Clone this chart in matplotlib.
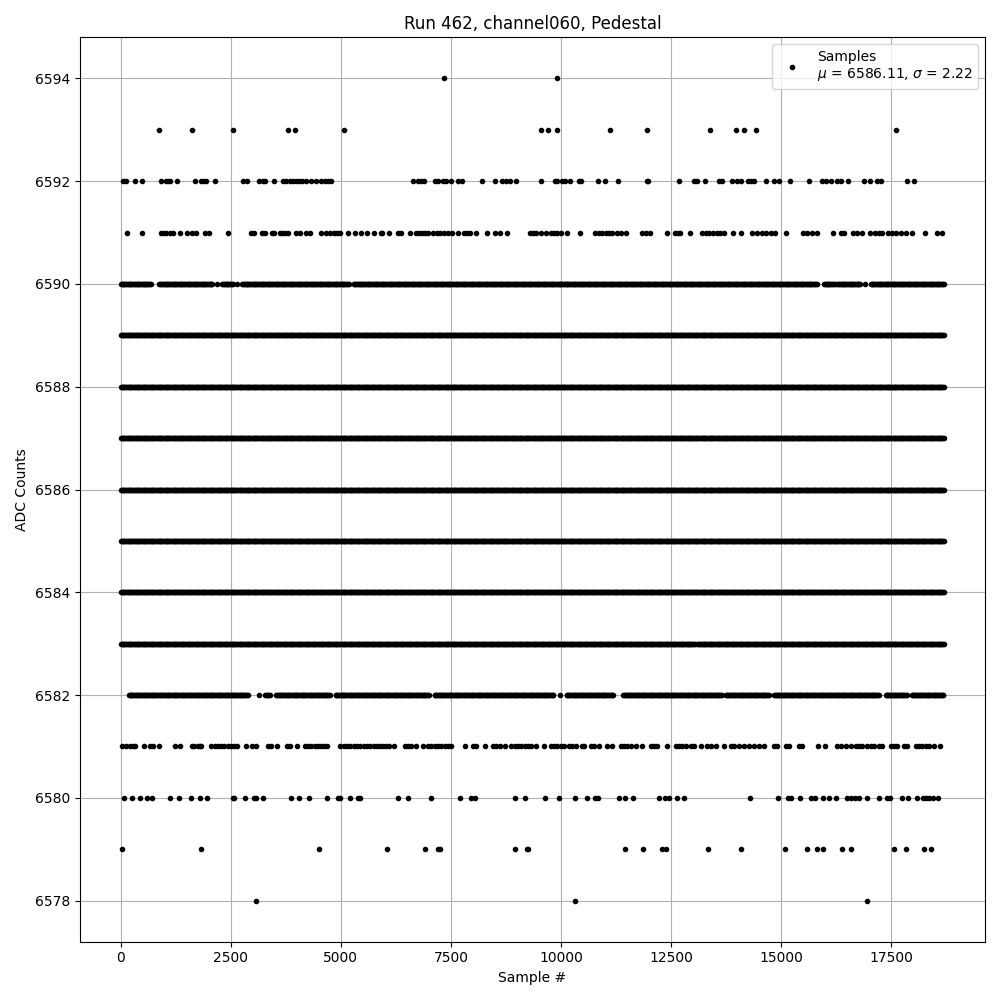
import numpy as np
import matplotlib
matplotlib.use("Agg")
import matplotlib.pyplot as plt

# sample numbers, one list per ADC level (sparse levels)
level_points = {
    6594: [7341, 9909],
    6593: [864, 1614, 2545, 3796, 3962, 5068, 9538, 9712, 9909, 11114, 11955,
           13386, 13970, 14159, 14432, 17621],
    6592: [61, 121, 333, 477, 924, 1030, 1083, 1129, 1273, 1682, 1833, 1894,
           1939, 2136, 2773, 2864, 3136, 3227, 3273, 3470, 3682, 3758, 3833,
           3909, 3985, 4045, 4106, 4212, 4326, 4439, 4553, 4629, 4705, 4780,
           6636, 6750, 6826, 6879, 7129, 7205, 7318, 7394, 7508, 7659, 7750,
           8205, 8500, 8667, 8758, 8849, 8985, 9538, 9856, 9917, 10030, 10091,
           10205, 10409, 10462, 10848, 10992, 11295, 11955, 11977, 12689,
           13023, 13099, 13265, 13591, 13667, 13879, 13992, 14083, 14250,
           14311, 14386, 14659, 14841, 14955, 15205, 15644, 15924, 16015,
           16129, 16280, 16356, 16523, 16886, 17023, 17174, 17265, 17871,
           18023],
    6591: [144, 477, 902, 970, 1030, 1121, 1197, 1356, 1500, 1614, 1712, 1924,
           2015, 2439, 2955, 3015, 3212, 3280, 3424, 3485, 3606, 3667, 3727,
           3796, 3970, 4061, 4197, 4303, 4545, 4652, 4742, 4833, 4909, 4970,
           5159, 5318, 5462, 5598, 5750, 5917, 5939, 6091, 6303, 6371, 6576,
           6712, 6773, 6833, 6902, 6977, 7091, 7182, 7258, 7333, 7432, 7523,
           7659, 7788, 7864, 7939, 8076, 8318, 8500, 8606, 8773, 9303, 9364,
           9439, 9538, 9652, 9765, 9841, 9917, 10008, 10129, 10432, 10773,
           10864, 10939, 11015, 11091, 11167, 11265, 11371, 11485, 11833,
           11924, 12015, 12402, 12583, 12659, 12705, 12932, 13197, 13288,
           13364, 13462, 13538, 13614, 13705, 13917, 14099, 14348, 14462,
           14561, 14652, 14765, 14864, 15121, 15500, 15599, 15712, 15811,
           16182, 16356, 16432, 16644, 16735, 16848, 17023, 17136, 17227,
           17303, 17439, 17530, 17621, 17720, 17833, 17985, 18273, 18553,
           18667],
    6581: [23, 121, 212, 273, 333, 538, 652, 742, 864, 1242, 1356, 1621, 1674,
           1750, 1788, 1826, 2053, 2129, 2205, 2280, 2356, 2432, 2508, 2583,
           2636, 2848, 2985, 3076, 3341, 3417, 3545, 3773, 3848, 4000, 4174,
           4250, 4326, 4402, 4477, 4553, 4606, 4682, 4985, 5061, 5136, 5212,
           5288, 5364, 5439, 5515, 5591, 5667, 5742, 5818, 5879, 5955, 6030,
           6091, 6197, 6447, 6523, 6598, 6712, 6864, 6977, 7053, 7129, 7205,
           7280, 7356, 7432, 7508, 7811, 8000, 8076, 8280, 8455, 8530, 8606,
           8720, 8871, 8947, 9023, 9098, 9174, 9250, 9326, 9439, 9614, 9765,
           9841, 9917, 9992, 10068, 10182, 10258, 10333, 10485, 10523, 10674,
           10750, 10864, 11053, 11167, 11356, 11432, 11508, 11583, 11697,
           11848, 12038, 12114, 12189, 12417, 12606, 12682, 12758, 12833,
           12947, 13023, 13174, 13326, 13402, 13515, 13705, 13856, 13932,
           14045, 14159, 14273, 14386, 14500, 14614, 14841, 14917, 15106,
           15182, 15409, 15485, 15841, 15992, 16280, 16356, 16470, 16583,
           16697, 16773, 16848, 16962, 17038, 17114, 17227, 17303, 17492,
           17568, 17644, 17795, 17871, 18061, 18136, 18212, 18288, 18364,
           18477, 18614],
    6580: [83, 250, 439, 591, 712, 1129, 1318, 1591, 1803, 1955, 2545, 2583,
           2818, 3015, 3076, 3227, 3856, 4045, 4273, 4682, 4932, 4985, 5205,
           5386, 5439, 6295, 6523, 7045, 7705, 7962, 8038, 8955, 9182, 9629,
           9955, 10318, 10591, 10773, 10848, 11326, 11455, 11629, 12227, 12356,
           12447, 12644, 12796, 14295, 14932, 15167, 15227, 15432, 15674,
           15773, 15947, 16098, 16250, 16492, 16583, 16674, 16780, 16962,
           17227, 17401, 17477, 17750, 17886, 18098, 18220, 18295, 18371,
           18447, 18568],
    6579: [23, 1818, 4500, 6045, 6909, 7212, 7258, 8947, 9227, 9258, 11455,
           11864, 12288, 12394, 13341, 14083, 15091, 15591, 15818, 15955,
           16386, 16591, 17568, 17841, 18250, 18402],
    6578: [3068, 10318, 16955],
}

# dense levels: sample ranges (start, end) where the row is filled
level_spans = {
    6590: [(0, 689), (879, 2091), (2182, 2182), (2303, 2545), (2636, 2636),
           (2758, 5197), (5288, 15826), (15977, 16220), (16280, 16811),
           (16902, 16902), (17038, 18700)],
    6589: [(0, 18700)],
    6588: [(0, 18700)],
    6587: [(0, 18700)],
    6586: [(0, 18700)],
    6585: [(0, 18700)],
    6584: [(0, 18700)],
    6583: [(0, 13050), (13100, 18700)],
    6582: [(182, 2886), (3136, 3136), (3280, 3394), (3530, 4758), (4879, 7015),
           (7129, 9841), (9977, 9977), (10129, 11205), (11417, 13667),
           (13743, 14727), (14841, 17227), (17379, 17871), (17970, 18690)],
}

xs, ys = [], []
for level, pts in level_points.items():
    xs.extend(pts)
    ys.extend([level] * len(pts))
for level, spans in level_spans.items():
    for start, end in spans:
        seg = np.arange(start, end + 1, 20)
        xs.extend(seg)
        ys.extend([level] * len(seg))

xs = np.array(xs)
ys = np.array(ys)
order = np.argsort(xs, kind="stable")

fig = plt.figure(figsize=(10, 10), dpi=100)
plt.plot(xs[order], ys[order], 'k.',
         label="Samples\n$\\mu$ = 6586.11, $\\sigma$ = 2.22")
plt.xlabel("Sample #")
plt.ylabel("ADC Counts")
plt.title("Run 462, channel060, Pedestal")
plt.grid(True)
plt.legend(loc="upper right")
plt.tight_layout()
plt.savefig("out.png")
